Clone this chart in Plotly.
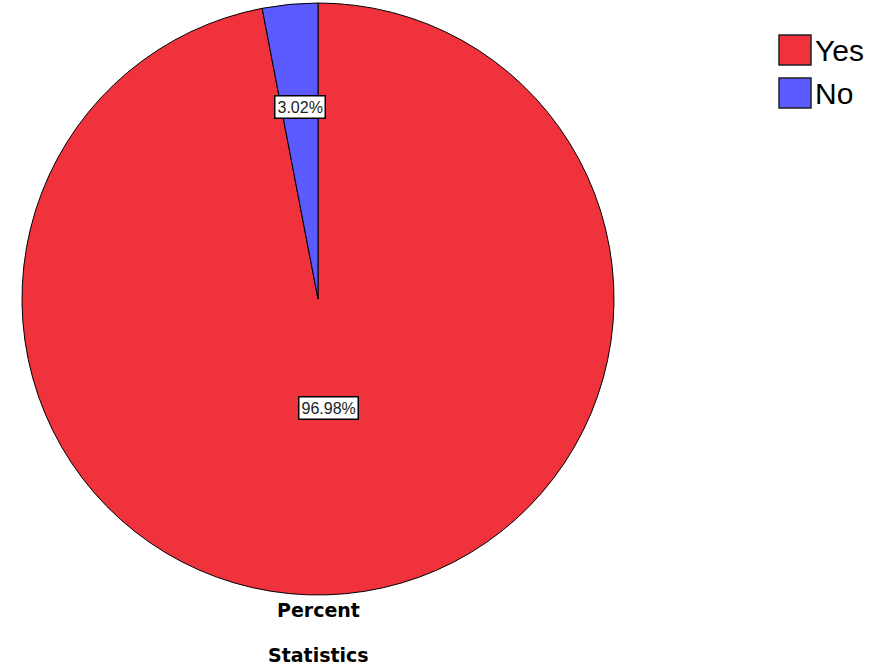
import math
import plotly.graph_objects as go

# Response shares (percent)
labels = ["Yes", "No"]
values = [96.98, 3.02]
colors = ["#EF323C", "#5A5AFF"]
label_radius = [0.37, 0.65]  # radial placement of the value boxes (fraction of radius)

W, H = 880, 671
cx, cy, R = 318, 299, 296  # pie centre and radius in pixels

fig = go.Figure(
    go.Pie(
        labels=labels,
        values=values,
        sort=False,
        direction="clockwise",
        rotation=0,
        marker=dict(colors=colors, line=dict(color="black", width=1)),
        textinfo="none",
        hoverinfo="label+percent",
        showlegend=False,
        domain=dict(
            x=[(cx - R) / W, (cx + R) / W],
            y=[1 - (cy + R) / H, 1 - (cy - R) / H],
        ),
    )
)

# Value boxes placed at each slice's mid-angle
total = sum(values)
cum = 0.0
annotations = []
for lab, val, f in zip(labels, values, label_radius):
    mid = (cum + val / 2) / total * 2 * math.pi
    cum += val
    px = cx + R * f * math.sin(mid)
    py = cy - R * f * math.cos(mid)
    annotations.append(
        dict(
            x=px / W, y=1 - py / H, xref="paper", yref="paper",
            xanchor="center", yanchor="middle",
            text=f"{val:.2f}%", showarrow=False,
            font=dict(family="Liberation Sans, Arial", size=16, color="#222"),
            bgcolor="white", bordercolor="black", borderwidth=1.5, borderpad=2,
        )
    )

# Titles below the pie
for txt, ypx in (("Percent", 610), ("Statistics", 655)):
    annotations.append(dict(x=cx / W, y=1 - ypx / H, xref="paper", yref="paper",
                            xanchor="center", yanchor="middle",
                            text=f"<b>{txt}</b>", showarrow=False,
                            font=dict(family="DejaVu Sans", size=19, color="black")))

# Legend drawn as swatches + text
shapes = []
for i, (lab, col) in enumerate(zip(labels, colors)):
    top = 35 + i * 43
    shapes.append(dict(type="rect", xref="paper", yref="paper",
                       x0=779 / W, x1=811 / W, y0=1 - (top + 30) / H, y1=1 - top / H,
                       fillcolor=col, line=dict(color="#222", width=1.5)))
    annotations.append(dict(x=813 / W, y=1 - (top + 16) / H, xref="paper", yref="paper",
                            text=lab, showarrow=False, xanchor="left", yanchor="middle",
                            font=dict(family="Liberation Sans, Arial", size=30, color="black")))

fig.update_layout(
    width=W, height=H,
    margin=dict(l=0, r=0, t=0, b=0),
    paper_bgcolor="white", plot_bgcolor="white",
    annotations=annotations, shapes=shapes,
)

fig.write_html("out.html")
